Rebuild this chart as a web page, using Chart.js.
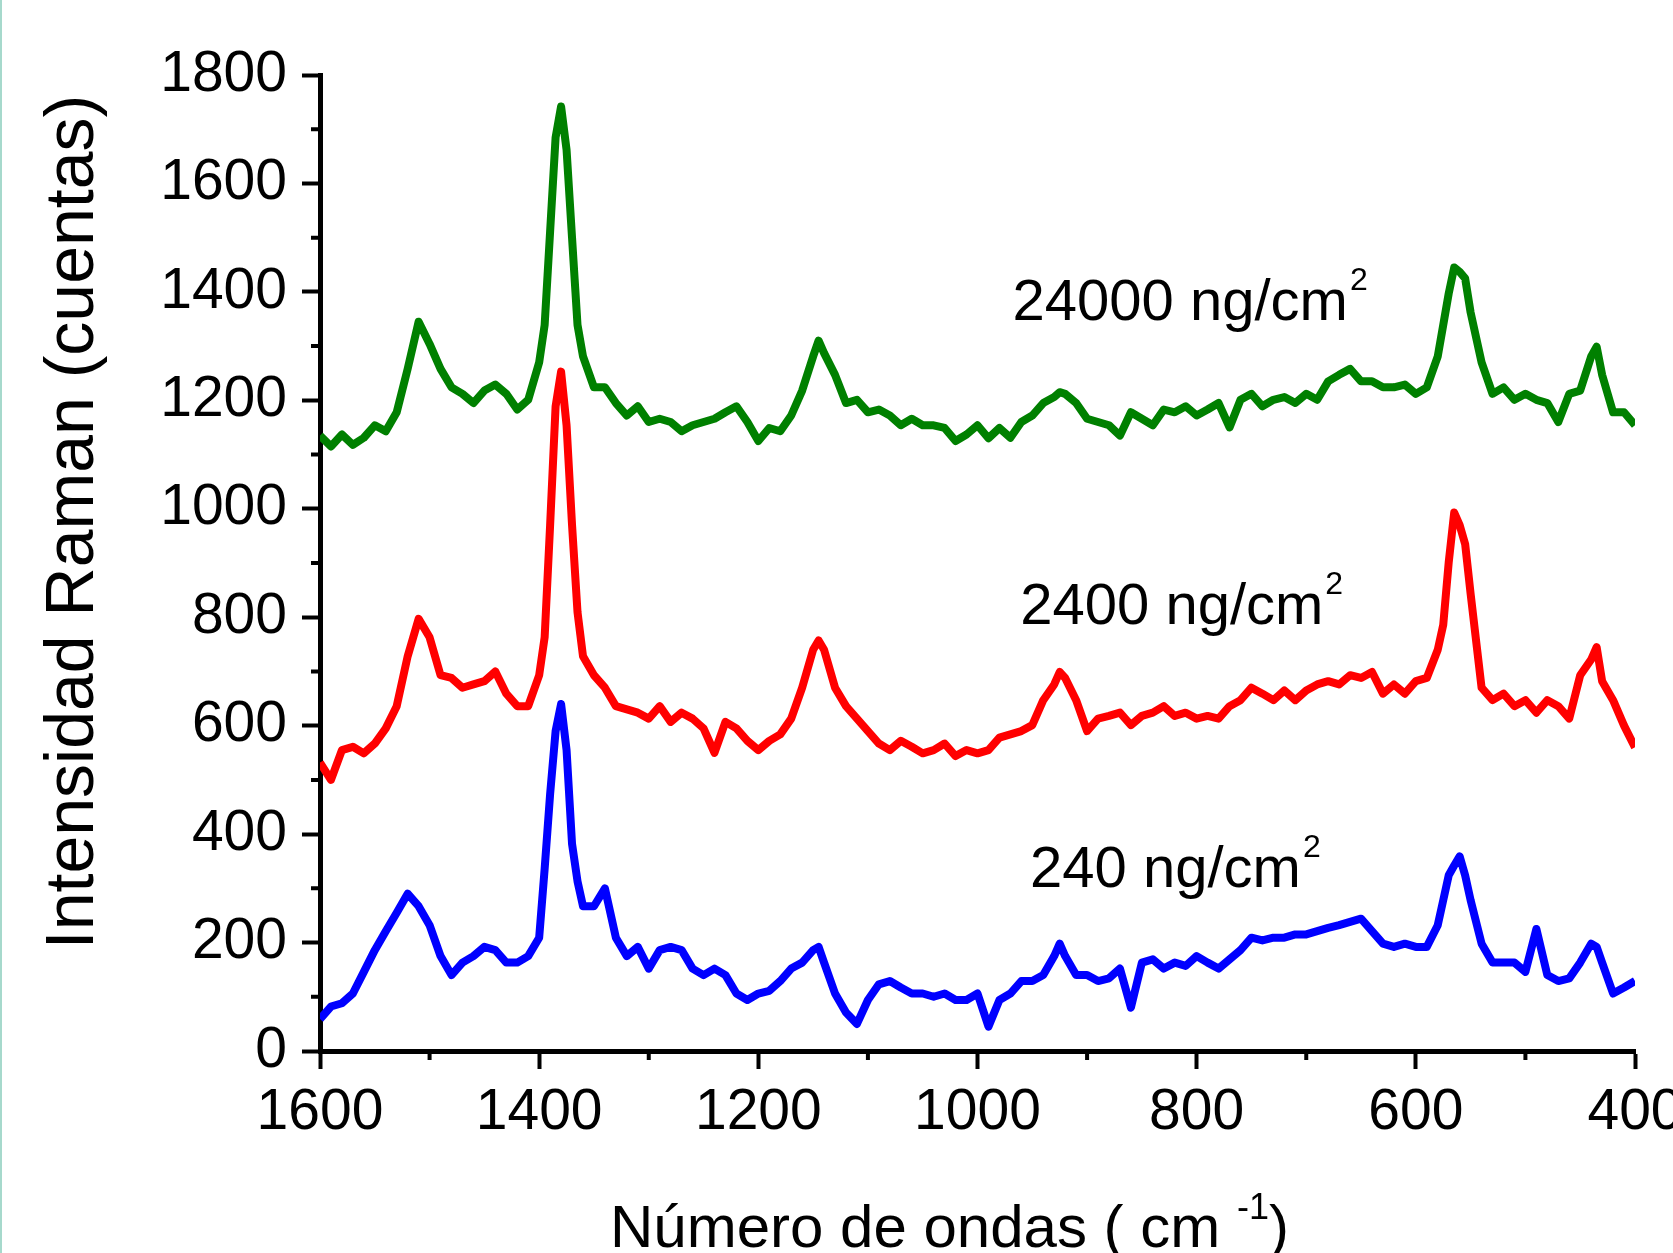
<!DOCTYPE html>
<html>
<head>
<meta charset="utf-8">
<title>Intensidad Raman</title>
<script src="https://cdn.jsdelivr.net/npm/chart.js@4.4.1/dist/chart.umd.min.js"></script>
<style>
  html, body { margin: 0; padding: 0; background: #fff; }
  #wrap { position: relative; width: 1673px; height: 1253px; overflow: hidden; }
</style>
</head>
<body>
<div id="wrap"><canvas id="raman" width="1673" height="1253"></canvas></div>
<script>
// Número de ondas (cm-1), eje común a los tres espectros
const wavenumbers = [
  1600, 1590, 1580, 1570, 1560, 1550, 1540, 1530, 1520, 1510,
  1500, 1490, 1480, 1470, 1460, 1450, 1440, 1430, 1420, 1410,
  1400, 1395, 1390, 1385, 1380, 1375, 1370, 1365, 1360,
  1350, 1340, 1330, 1320, 1310, 1300, 1290, 1280, 1270, 1260,
  1250, 1240, 1230, 1220, 1210, 1200, 1190, 1180, 1170, 1160,
  1150, 1145, 1140, 1130, 1120, 1110, 1100, 1090, 1080, 1070,
  1060, 1050, 1040, 1030, 1020, 1010, 1000, 990, 980, 970,
  960, 950, 940, 930, 925, 920, 910, 900, 890, 880,
  870, 860, 850, 840, 830, 820, 810, 800, 790, 780,
  770, 760, 750, 740, 730, 720, 710, 700, 690, 680,
  670, 660, 650, 640, 630, 620, 610, 600, 590, 580,
  575, 570, 565, 560, 555, 550, 540, 530, 520, 510,
  500, 490, 480, 470, 460, 450, 440, 435, 430, 420,
  410, 400
];

// 24000 ng/cm2 (verde)
const conc24000 = [
  1135, 1115, 1137, 1118, 1131, 1154, 1143, 1178, 1258, 1345,
  1304, 1258, 1224, 1212, 1195, 1218, 1229, 1212, 1183, 1201,
  1270, 1339, 1512, 1685, 1742, 1662, 1500, 1339, 1281,
  1224, 1224, 1195, 1172, 1189, 1160, 1166, 1160, 1143, 1154,
  1160, 1166, 1178, 1189, 1160, 1125, 1149, 1143, 1172, 1218,
  1281, 1310, 1287, 1247, 1195, 1201, 1178, 1183, 1172, 1154,
  1166, 1154, 1154, 1149, 1125, 1137, 1154, 1130, 1149, 1131,
  1160, 1172, 1195, 1206, 1215, 1212, 1195, 1166, 1160, 1154,
  1135, 1178, 1166, 1154, 1183, 1178, 1189, 1172, 1183, 1195,
  1150, 1201, 1212, 1189, 1201, 1206, 1195, 1212, 1201, 1235,
  1247, 1258, 1235, 1235, 1224, 1224, 1229, 1212, 1224, 1281,
  1339, 1397, 1445, 1437, 1425, 1362, 1270, 1212, 1224, 1201,
  1212, 1201, 1195, 1160, 1212, 1218, 1281, 1299, 1247, 1178,
  1178, 1154
];

// 2400 ng/cm2 (rojo)
const conc2400 = [
  532, 500, 555, 561, 549, 567, 595, 636, 728, 797,
  763, 693, 688, 670, 676, 682, 700, 659, 636, 636,
  693, 763, 970, 1189, 1253, 1154, 970, 809, 728,
  693, 670, 636, 630, 624, 613, 636, 607, 624, 613,
  595, 550, 607, 595, 572, 555, 572, 584, 613, 670,
  740, 757, 740, 670, 636, 613, 590, 567, 555, 572,
  561, 549, 555, 567, 544, 555, 549, 555, 578, 584,
  590, 601, 647, 676, 699, 688, 647, 590, 613, 618,
  624, 601, 618, 624, 636, 618, 624, 613, 618, 613,
  636, 647, 670, 659, 647, 665, 647, 665, 676, 682,
  676, 693, 688, 699, 659, 676, 659, 682, 688, 740,
  786, 901, 993, 970, 935, 843, 670, 647, 659, 636,
  647, 624, 647, 636, 613, 693, 722, 745, 682, 647,
  600, 560
];

// 240 ng/cm2 (azul)
const conc240 = [
  59, 82, 88, 106, 146, 186, 221, 255, 290, 267,
  232, 175, 140, 163, 175, 192, 186, 163, 163, 175,
  209, 336, 474, 590, 640, 555, 382, 313, 267,
  267, 300, 209, 175, 192, 152, 186, 192, 186, 152,
  140, 152, 140, 106, 94, 106, 111, 129, 152, 163,
  186, 192, 163, 106, 71, 50, 94, 123, 129, 117,
  106, 106, 100, 106, 94, 94, 106, 45, 94, 106,
  129, 129, 140, 175, 198, 175, 140, 140, 129, 134,
  152, 80, 163, 169, 152, 163, 157, 175, 163, 152,
  169, 186, 209, 204, 209, 209, 215, 215, 221, 227,
  232, 238, 244, 221, 198, 192, 198, 192, 192, 232,
  278, 324, 342, 359, 324, 278, 198, 163, 163, 163,
  146, 225, 140, 129, 134, 163, 198, 192, 163, 106,
  117, 129
];

const seriesLabels = ['24000 ng/cm', '2400 ng/cm', '240 ng/cm'];
const seriesColors = ['#008000', '#ff0000', '#0000ff'];

// Ejes
const xMin = 400, xMax = 1600, xStep = 200;
const yMin = 0, yMax = 1800, yStep = 200;

// Posición de las etiquetas (en unidades de datos: número de ondas, cuentas)
const labelAnchors = [
  { x: 968, y: 1348 },
  { x: 961, y: 788 },
  { x: 952, y: 302 }
];

Chart.defaults.font.family = '"Liberation Sans", Arial, sans-serif';
Chart.defaults.color = '#000';

const toPoints = (vals) => wavenumbers.map((w, i) => ({ x: w, y: vals[i] }));

// Marcas menores y textos dibujados a mano
const extrasPlugin = {
  id: 'extras',
  afterDraw(chart) {
    const { ctx, chartArea, scales } = chart;
    const sx = scales.x, sy = scales.y;
    ctx.save();

    // marcas menores
    ctx.strokeStyle = '#000';
    ctx.lineWidth = 4;
    ctx.beginPath();
    for (let v = yMin + yStep / 2; v < yMax; v += yStep) {
      const py = sy.getPixelForValue(v);
      ctx.moveTo(chartArea.left - 9, py);
      ctx.lineTo(chartArea.left, py);
    }
    for (let v = xMin + xStep / 2; v < xMax; v += xStep) {
      const px = sx.getPixelForValue(v);
      ctx.moveTo(px, chartArea.bottom);
      ctx.lineTo(px, chartArea.bottom + 9);
    }
    ctx.stroke();

    ctx.fillStyle = '#000';
    ctx.textBaseline = 'alphabetic';

    // etiquetas de concentración
    seriesLabels.forEach((txt, i) => {
      const a = labelAnchors[i];
      const px = sx.getPixelForValue(a.x);
      const py = sy.getPixelForValue(a.y);
      ctx.font = '58px "Liberation Sans", Arial, sans-serif';
      ctx.textAlign = 'left';
      ctx.fillText(txt, px, py);
      const w = ctx.measureText(txt).width;
      ctx.font = '32px "Liberation Sans", Arial, sans-serif';
      ctx.fillText('2', px + w + 2, py - 30);
    });

    // título eje x
    const xt = 'Número de ondas ( cm ';
    let tx = 610;
    const ty = 1247;
    ctx.font = '60px "Liberation Sans", Arial, sans-serif';
    ctx.fillText(xt, tx, ty);
    tx += ctx.measureText(xt).width;
    ctx.font = '36px "Liberation Sans", Arial, sans-serif';
    ctx.fillText('-1', tx, ty - 28);
    tx += ctx.measureText('-1').width;
    ctx.font = '60px "Liberation Sans", Arial, sans-serif';
    ctx.fillText(')', tx, ty);

    // título eje y
    ctx.translate(93, 522);
    ctx.rotate(-Math.PI / 2);
    ctx.font = '68px "Liberation Sans", Arial, sans-serif';
    ctx.textAlign = 'center';
    ctx.fillText('Intensidad Raman (cuentas)', 0, 0);
    ctx.restore();

    // borde izquierdo de la figura
    ctx.save();
    ctx.fillStyle = '#a6d9cc';
    ctx.fillRect(0, 0, 2, chart.height);
    ctx.restore();
  }
};

const axisGrid = {
  drawOnChartArea: false,
  drawTicks: true,
  tickLength: 18,
  tickWidth: 4,
  tickColor: '#000'
};

const plainNumber = (v) => String(v);

const lineStyle = {
  borderWidth: 8,
  pointRadius: 0,
  tension: 0,
  fill: false,
  borderJoinStyle: 'round'
};

new Chart(document.getElementById('raman'), {
  type: 'line',
  data: {
    datasets: [
      { label: '24000 ng/cm²', data: toPoints(conc24000), borderColor: seriesColors[0], ...lineStyle },
      { label: '2400 ng/cm²', data: toPoints(conc2400), borderColor: seriesColors[1], ...lineStyle },
      { label: '240 ng/cm²', data: toPoints(conc240), borderColor: seriesColors[2], ...lineStyle }
    ]
  },
  options: {
    responsive: false,
    devicePixelRatio: 1,
    animation: false,
    parsing: false,
    layout: { padding: { left: 0, top: 75, right: 38, bottom: 0 } },
    plugins: {
      legend: { display: false },
      tooltip: { enabled: false }
    },
    scales: {
      x: {
        type: 'linear',
        reverse: true,
        min: xMin,
        max: xMax,
        border: { display: true, color: '#000', width: 5 },
        grid: axisGrid,
        ticks: { stepSize: xStep, font: { size: 57 }, padding: 10, maxRotation: 0, autoSkip: false, callback: plainNumber },
        afterFit(s) { s.height = 202; s.paddingLeft = 0; s.paddingRight = 0; }
      },
      y: {
        min: yMin,
        max: yMax,
        border: { display: true, color: '#000', width: 5 },
        grid: axisGrid,
        ticks: { stepSize: yStep, font: { size: 57 }, padding: 15, callback: plainNumber },
        afterFit(s) { s.width = 320; s.paddingTop = 0; s.paddingBottom = 0; }
      }
    }
  },
  plugins: [extrasPlugin]
});
</script>
</body>
</html>
